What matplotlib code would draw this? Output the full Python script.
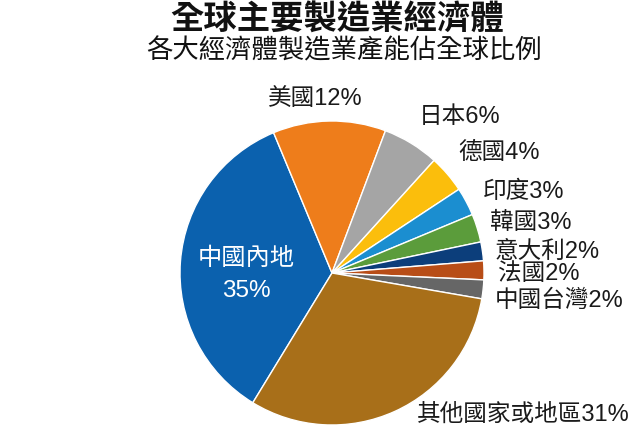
import matplotlib.pyplot as plt

plt.rcParams['font.family'] = ['Liberation Sans', 'Noto Sans CJK TC', 'DejaVu Sans']

# data
regions = ['中國內地', '美國', '日本', '德國', '印度', '韓國', '意大利', '法國', '中國台灣', '其他國家或地區']
shares = [35, 12, 6, 4, 3, 3, 2, 2, 2, 31]
colors = ['#0b61ae', '#ee7d1b', '#a5a5a5', '#fbbe0c', '#1b8ed0', '#5b9c3b',
          '#0c3e7b', '#b84d17', '#666666', '#a86f19']

W, H = 640, 447
fig = plt.figure(figsize=(W / 100, H / 100), dpi=100)

# pie centre ~ (332, 273) px, radius ~152 px
cx, cy, r = 332, 273, 152
ax = fig.add_axes([(cx - r) / W, (H - cy - r) / H, 2 * r / W, 2 * r / H])
ax.pie(shares, colors=colors, startangle=238.6, counterclock=False, radius=1,
       wedgeprops=dict(edgecolor='white', linewidth=1.0))
ax.set_xlim(-1, 1)
ax.set_ylim(-1, 1)
ax.set_aspect('equal')
ax.axis('off')


def px(x, y):
    return x / W, 1 - y / H


# outside labels: (left x px, centre y px)
label_pos = {
    '美國': (268, 100),
    '日本': (419, 117),
    '德國': (458, 153),
    '印度': (483, 192),
    '韓國': (490, 223),
    '意大利': (495, 252),
    '法國': (498, 274),
    '中國台灣': (495, 301),
    '其他國家或地區': (417, 415),
}
for name, val in zip(regions, shares):
    if name in label_pos:
        x, y = label_pos[name]
        fig.text(*px(x, y), f'{name}{val}%', fontsize=17, ha='left', va='center',
                 color='#1a1a1a')

# label inside the largest slice
fig.text(*px(246, 259), regions[0], fontsize=17.5, ha='center', va='center', color='white')
fig.text(*px(246, 291), f'{shares[0]}%', fontsize=17.5, ha='center', va='center', color='white')

fig.text(*px(337, 20), '全球主要製造業經濟體', fontsize=24, fontweight='black',
         family=['Noto Sans CJK TC'], ha='center', va='center', color='#111111')
fig.text(*px(344, 51), '各大經濟體製造業產能佔全球比例', fontsize=19,
         family=['Noto Sans CJK TC'], ha='center', va='center', color='#111111')

fig.savefig('out.png', dpi=100)
